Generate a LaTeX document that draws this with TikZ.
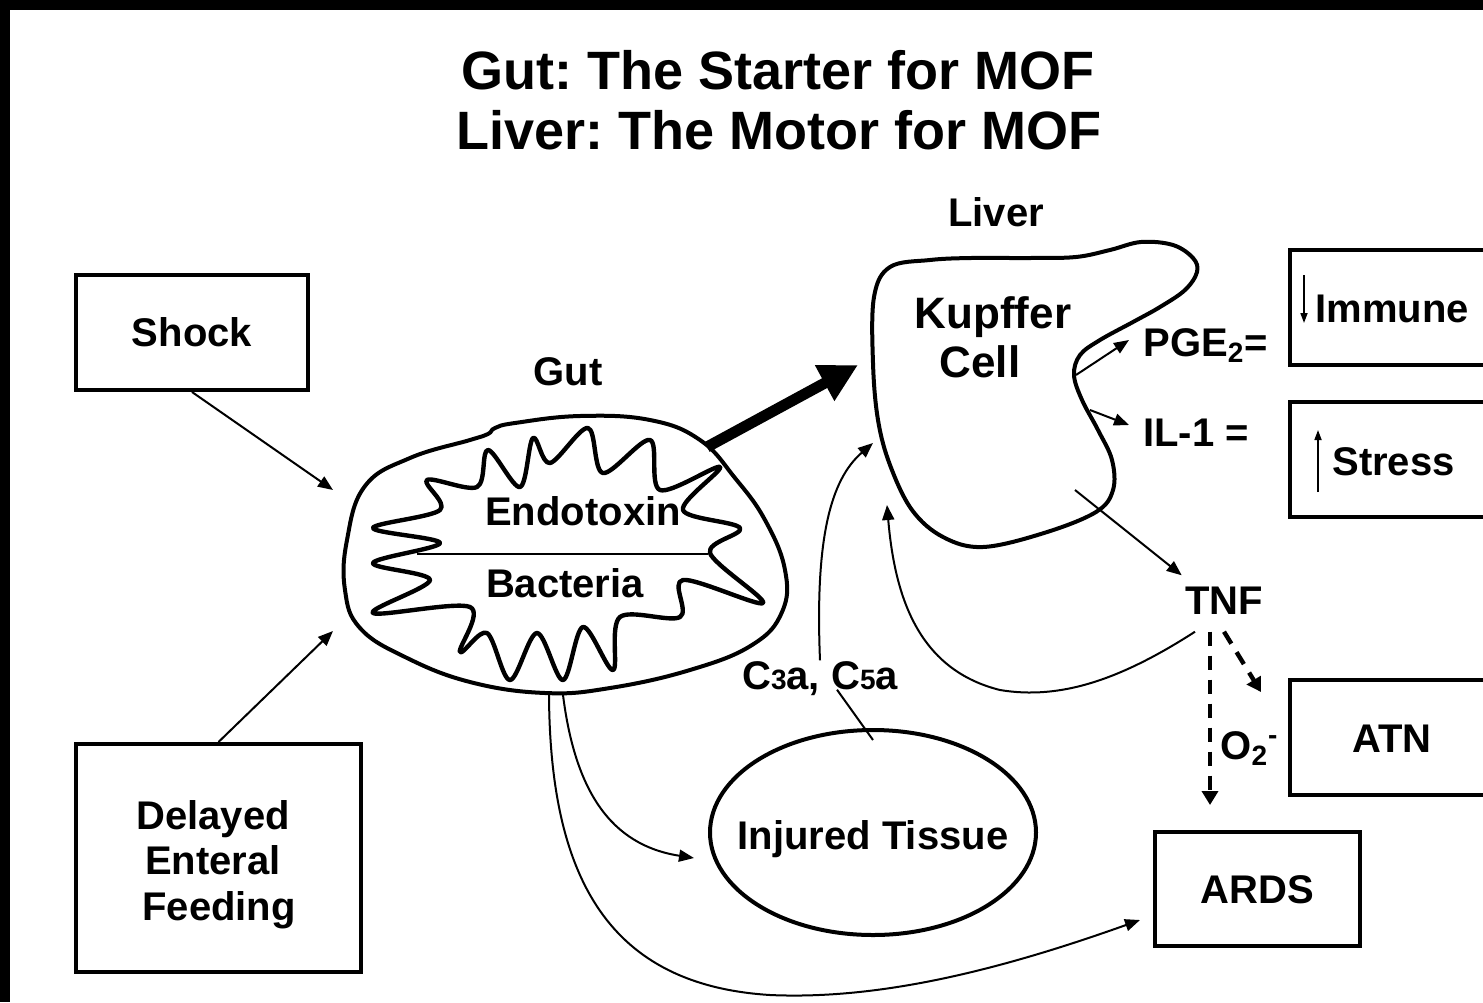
\documentclass[tikz,border=0pt]{standalone}
\usepackage{fontspec}
\setmainfont{Liberation Sans}
\usetikzlibrary{arrows.meta,calc,shapes.geometric}
\frenchspacing
\begin{document}
\begin{tikzpicture}[x=0.5pt,y=-0.5pt,
  lbl/.style={font=\fontsize{20}{23}\selectfont\bfseries, inner sep=0pt, text height=14.3pt, text depth=0pt},
  ttl/.style={font=\fontsize{27}{32}\selectfont\bfseries, inner sep=0pt, text height=19.3pt, text depth=0pt},
  kup/.style={font=\fontsize{22}{26}\selectfont\bfseries, inner sep=0pt, text height=15.75pt, text depth=0pt},
  boxed/.style={draw, line width=2pt, inner sep=0pt},
  blob/.style={line width=2pt, line join=round},
  burst/.style={line width=2.2pt, line join=round},
  thinarrow/.style={line width=1pt, -{Triangle[length=7.5pt,width=6pt]}},
  smallarrow/.style={line width=0.8pt, -{Triangle[length=5pt,width=3.5pt]}},
  dsh/.style={line width=2.2pt, dash pattern=on 7pt off 5pt, -{Triangle[length=7pt,width=8pt]}},
  fat/.style={line width=5.5pt, -{Triangle[length=19pt,width=19pt]}},
]
\useasboundingbox (0,0) rectangle (1483,1002);
\clip (0,0) rectangle (1483,1002);
\fill[white] (0,0) rectangle (1483,1002);
\fill[black] (0,0) rectangle (1483,10);
\fill[black] (0,0) rectangle (10,1002);

% titles
\node[ttl] (t1) at (778,70) {Gut: The Starter for MOF};
\node[ttl] (t2) at (779,130) {Liver: The Motor for MOF};

% boxes
\node[boxed, lbl, minimum width=116pt, minimum height=57.5pt] (shock) at (192,332.5) {Shock};
\node[boxed, minimum width=142.5pt, minimum height=114pt] (delayed) at (218.5,858) {};
\node[lbl] (del1) at (213,815) {Delayed};
\node[lbl] (del2) at (213,860) {Enteral};
\node[lbl] (del3) at (219,906) {Feeding};
\node[boxed, minimum width=120pt, minimum height=57.5pt] (immunebox) at (1410,307.5) {};
\node[boxed, minimum width=120pt, minimum height=57.5pt] (stressbox) at (1410,459.5) {};
\node[boxed, minimum width=120pt, minimum height=57.5pt] (atnbox) at (1410,737.5) {};
\node[lbl] (atn) at (1392,738) {ATN};
\node[boxed, lbl, minimum width=102.5pt, minimum height=57pt] (ards) at (1257.5,889) {ARDS};
\node[draw, ellipse, line width=2pt, inner sep=0pt, minimum width=163pt, minimum height=102.5pt] (injured) at (873,832.5) {};
\node[lbl] (injtxt) at (873,835) {Injured Tissue};

% gut outline
\draw[blob] plot[smooth cycle, tension=0.7] coordinates {
 (347,540) (365,486) (410,458) (470,440) (488,434) (495,428) (515,423) (580,416)
 (650,420) (700,440) (735,478) (765,520) (785,570) (782,612) (752,645) (690,670)
 (610,688) (545,693) (470,682) (405,657) (360,628) (345,590)};
% starburst
\draw[burst] plot[smooth cycle, tension=0.55] coordinates {
 (373,563) (440,543) (373,528) (440,510) (427,480) (477,487) (488,450) (520,487)
 (533,438) (550,463) (588,428) (603,473) (650,440) (660,490) (720,467) (683,510)
 (740,528) (710,553) (763,603) (683,580) (680,617) (620,617) (613,670) (583,627)
 (563,680) (537,633) (510,680) (487,633) (460,652) (470,607) (373,613) (430,580)};
\draw[line width=0.6pt] (417,554) -- (708,554);
\node[lbl] (endo) at (583,511) {Endotoxin};
\node[lbl] (bact) at (565,583) {Bacteria};
\node[lbl] (gut) at (568,371) {Gut};

% Kupffer cell outline
\draw[blob] plot[smooth cycle, tension=0.6] coordinates {
 (890,267) (930,260) (971,258) (1030,258) (1076,257) (1110,250) (1141,242) (1173,245)
 (1193,258) (1197,272) (1185,290) (1160,307) (1133,322) (1100,340) (1080,355) (1074,375)
 (1082,400) (1098,430) (1112,460) (1113,490) (1096,512) (1044,533) (983,547) (943,537)
 (912,510) (890,465) (878,420) (873,363) (874,297)};
\node[lbl] (liver) at (996,212) {Liver};
\node[kup] (kupffer) at (993,313) {Kupffer};
\node[kup] (cell) at (980,362) {Cell};

% right labels
\node[lbl, anchor=west] (pge) at (1143,342) {PGE\textsubscript{2}=};
\node[lbl, anchor=west] (il) at (1143,432) {IL-1 =};
\node[lbl, anchor=west] (immune) at (1315,308) {Immune};
\node[lbl, anchor=west] (stress) at (1332,461) {Stress};
\node[lbl] (tnf) at (1224,600) {TNF};
\node[lbl, anchor=west] (o2) at (1220,745) {O\textsubscript{2}\textsuperscript{-}};
\node[lbl] (c3a) at (820,675) {C{\fontsize{14}{14}\selectfont 3}a, C{\fontsize{14}{14}\selectfont 5}a};

% coordinates
\coordinate (gutA) at (333,490);
\coordinate (gutB) at (333,631);
\coordinate (gutC) at (549,695);
\coordinate (gutD) at (563,695);
\coordinate (gutE) at (707,447);
\coordinate (kupA) at (858,365);
\coordinate (kupB) at (873,443);
\coordinate (kupC) at (887,505);
\coordinate (kupD) at (1076,375);
\coordinate (kupE) at (1090,410);
\coordinate (kupF) at (1075,490);
\coordinate (dnA) at (1304,275);
\coordinate (dnB) at (1304,323);
\coordinate (upA) at (1318,492);
\coordinate (upB) at (1318,430);

% connectors
\draw[thinarrow] (shock.south) -- (gutA);
\draw[thinarrow] (delayed.north) -- (gutB);
\draw[fat] (gutE) -- (kupA);
\draw[thinarrow] (kupD) -- ([xshift=-7pt,yshift=1pt]pge.west);
\draw[thinarrow] (kupE) -- ([xshift=-7pt,yshift=3.5pt]il.west);
\draw[thinarrow] (kupF) -- ([shift={(-1.5pt,5pt)}]tnf.north west);
\draw[thinarrow] ([shift={(-14.5pt,-8.5pt)}]tnf.south) .. controls (1120,680) and (1060,700) .. (1000,690)
   .. controls (920,670) and (895,600) .. (kupC);
\draw[thinarrow] (c3a.north) .. controls (815,540) and (830,480) .. (kupB);
\draw[line width=1pt] ([xshift=8.5pt]c3a.south) -- ([yshift=-6pt]injured.north);
\draw[thinarrow] (gutD) .. controls (575,790) and (610,845) .. ([shift={(-7pt,-12.75pt)}]injured.west);
\draw[thinarrow] (gutC) .. controls (550,880) and (610,985) .. (770,995)
   .. controls (880,1000) and (1000,970) .. ([shift={(-6.5pt,-15.5pt)}]ards.west);
\draw[dsh] ([shift={(-7pt,-8.5pt)}]tnf.south) -- ([shift={(-23.75pt,12.5pt)}]ards.north);
\draw[dsh] ([yshift=-8.5pt]tnf.south) -- ([shift={(-13.5pt,22.75pt)}]atnbox.west);
\draw[smallarrow] (dnA) -- (dnB);
\draw[smallarrow] (upA) -- (upB);
\end{tikzpicture}
\end{document}
